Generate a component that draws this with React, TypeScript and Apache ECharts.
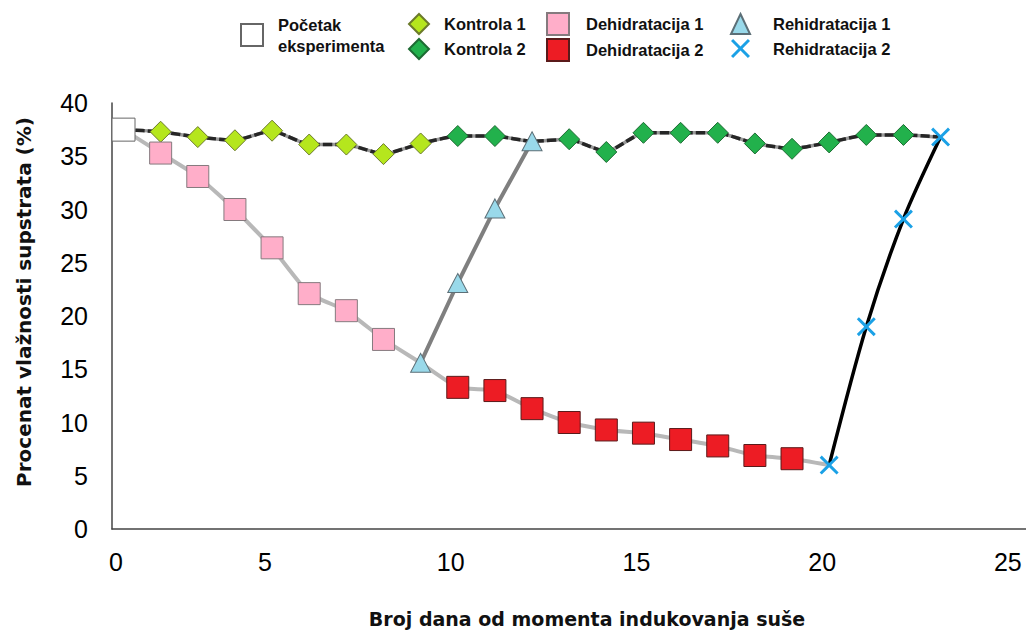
import React, { useEffect, useRef } from "react";
import * as echarts from "echarts";

// ---- data ----
const pocetakDays = [1];
const pocetakValues = [37.5];
const kontrola1Days = [2, 3, 4, 5, 6, 7, 8, 9];
const kontrola1Values = [37.3, 36.8, 36.5, 37.4, 36.1, 36.1, 35.2, 36.2];
const kontrola2Days = [10, 11, 13, 14, 15, 16, 17, 18, 19, 20, 21, 22];
const kontrola2Values = [36.9, 36.9, 36.6, 35.4, 37.2, 37.2, 37.2, 36.2, 35.7, 36.3, 37.0, 37.0];
const dehid1Days = [2, 3, 4, 5, 6, 7, 8];
const dehid1Values = [35.3, 33.1, 30.0, 26.4, 22.1, 20.5, 17.8];
const dehid2Days = [10, 11, 12, 13, 14, 15, 16, 17, 18, 19];
const dehid2Values = [13.3, 13.0, 11.3, 10.0, 9.3, 9.0, 8.4, 7.8, 6.9, 6.6];
const rehid1Days = [9, 10, 11, 12];
const rehid1Values = [15.6, 23.1, 30.1, 36.4];
const rehid2Days = [20, 21, 22, 23];
const rehid2Values = [6.0, 19.0, 29.1, 36.8];

const yTicks = [0, 5, 10, 15, 20, 25, 30, 35, 40];
const xTickValues = [5, 10, 15, 20, 25];
const xAxisMin = 0.69;
const xAxisMax = 25.3;

const names = {
  pocetak: "Početak eksperimenta",
  k1: "Kontrola 1",
  k2: "Kontrola 2",
  d1: "Dehidratacija 1",
  d2: "Dehidratacija 2",
  r1: "Rehidratacija 1",
  r2: "Rehidratacija 2",
};

const pts = (days: number[], vals: number[]) => days.map((d, i) => [d, vals[i]]);
const sortPts = (arr: number[][]) => arr.slice().sort((a, b) => a[0] - b[0]);

const crossPath =
  "path://M0,2.2 L2.2,0 L10,7.8 L17.8,0 L20,2.2 L12.2,10 L20,17.8 L17.8,20 L10,12.2 L2.2,20 L0,17.8 L7.8,10 Z";

const FONT = "'Liberation Sans', Arial, sans-serif";
const NAME_FONT = "'DejaVu Sans', 'Liberation Sans', sans-serif";

export default function App() {
  const ref = useRef<HTMLDivElement>(null);

  useEffect(() => {
    if (!ref.current) return;
    const chart = echarts.init(ref.current, null, { renderer: "svg" });

    const controlLine = sortPts([
      ...pts(pocetakDays, pocetakValues),
      ...pts(kontrola1Days, kontrola1Values),
      ...pts(kontrola2Days, kontrola2Values),
      [rehid1Days[rehid1Days.length - 1], rehid1Values[rehid1Values.length - 1]],
      [rehid2Days[rehid2Days.length - 1], rehid2Values[rehid2Values.length - 1]],
    ]);
    const dehydLine = sortPts([
      ...pts(pocetakDays, pocetakValues),
      ...pts(dehid1Days, dehid1Values),
      [rehid1Days[0], rehid1Values[0]],
      ...pts(dehid2Days, dehid2Values),
      [rehid2Days[0], rehid2Values[0]],
    ]);

    const lineBase = {
      type: "line",
      showSymbol: false,
      symbol: "none",
      silent: true,
      z: 1,
    };

    const legendText = {
      fontFamily: FONT,
      fontSize: 16.5,
      fontWeight: "bold",
      color: "#111",
      lineHeight: 21,
    };

    const mk = (name: string, data: number[][], symbol: string, size: any, color: string, border: string, bw = 1) => ({
      name,
      type: "scatter",
      data,
      symbol,
      symbolSize: size,
      z: 5,
      itemStyle: { color, borderColor: border, borderWidth: bw, opacity: 1 },
    });

    chart.setOption({
      animation: false,
      backgroundColor: "#fff",
      textStyle: { fontFamily: FONT },
      grid: { left: 112, right: 0, top: 103, bottom: 104, containLabel: false },
      legend: [
        {
          data: [names.pocetak],
          left: 240,
          top: 14,
          padding: 0,
          orient: "vertical",
          itemWidth: 22,
          itemHeight: 22,
          textStyle: { ...legendText, padding: [0, 0, 0, 10] },
          formatter: (n: string) => n.replace(" ", "\n"),
          selectedMode: false,
        },
        {
          data: [names.k1, names.k2],
          left: 408,
          top: 13,
          padding: 0,
          orient: "vertical",
          itemWidth: 20,
          itemHeight: 20,
          itemGap: 3,
          textStyle: { ...legendText, padding: [0, 0, 0, 10] },
          selectedMode: false,
        },
        {
          data: [names.d1, names.d2],
          left: 546,
          top: 12,
          padding: 0,
          orient: "vertical",
          itemWidth: 22,
          itemHeight: 22,
          itemGap: 2,
          textStyle: { ...legendText, padding: [0, 0, 0, 12] },
          selectedMode: false,
        },
        {
          data: [names.r1, names.r2],
          left: 730,
          top: 13,
          padding: 0,
          orient: "vertical",
          itemWidth: 19,
          itemHeight: 20,
          itemGap: 3,
          textStyle: { ...legendText, padding: [0, 0, 0, 18] },
          selectedMode: false,
        },
      ],
      xAxis: {
        type: "value",
        min: xAxisMin,
        max: xAxisMax,
        splitLine: { show: false },
        axisTick: { show: false },
        axisLine: { show: true, onZero: false, lineStyle: { color: "#444", width: 1.5 } },
        axisLabel: {
          customValues: [xAxisMin, ...xTickValues],
          formatter: (v: number) => (v < 1 ? "{z|0}" : "{n|" + Math.round(v) + "}"),
          margin: 20,
          rich: {
            z: { fontSize: 25, fontFamily: FONT, color: "#000", padding: [0, 0, 0, 8] },
            n: { fontSize: 25, fontFamily: FONT, color: "#000", padding: [0, 14, 0, 0] },
          },
        },
        name: "Broj dana od momenta indukovanja suše",
        nameLocation: "middle",
        nameGap: 80,
        nameTextStyle: { fontFamily: NAME_FONT, fontSize: 19, fontWeight: "bold", color: "#111", padding: [0, 0, 0, 36] },
      },
      yAxis: {
        type: "value",
        min: yTicks[0],
        max: yTicks[yTicks.length - 1],
        interval: 5,
        splitLine: { show: false },
        axisTick: { show: false },
        axisLine: { show: true, lineStyle: { color: "#444", width: 1.5 } },
        axisLabel: { fontSize: 25, fontFamily: FONT, color: "#000", margin: 24 },
        name: "Procenat vlažnosti supstrata (%)",
        nameLocation: "middle",
        nameGap: 78,
        nameTextStyle: { fontFamily: NAME_FONT, fontSize: 20, fontWeight: "bold", color: "#111", padding: [0, 0, 0, 28] },
      },
      series: [
        { ...lineBase, name: "dehydLine", data: dehydLine, smooth: 0.15, lineStyle: { color: "#b8b8b8", width: 4 } },
        { ...lineBase, name: "controlLineBase", data: controlLine, smooth: 0.15, lineStyle: { color: "#9a9a9a", width: 3.5 } },
        { ...lineBase, name: "controlLine", data: controlLine, smooth: 0.15, z: 2, lineStyle: { color: "#262626", width: 3.5, type: [9, 3] } },
        { ...lineBase, name: "rehyd1Line", data: pts(rehid1Days, rehid1Values), lineStyle: { color: "#7f7f7f", width: 4 } },
        { ...lineBase, name: "rehyd2Line", data: pts(rehid2Days, rehid2Values), smooth: 0.3, lineStyle: { color: "#000", width: 3.5 } },
        mk(names.pocetak, pts(pocetakDays, pocetakValues), "rect", 23, "#ffffff", "#666"),
        mk(names.k1, pts(kontrola1Days, kontrola1Values), "diamond", 21, "#b5e61d", "#6b7a2a"),
        mk(names.k2, pts(kontrola2Days, kontrola2Values), "diamond", 21, "#22b14c", "#1d6b33"),
        mk(names.d1, pts(dehid1Days, dehid1Values), "rect", 22, "#ffaec9", "#857a7e"),
        mk(names.d2, pts(dehid2Days, dehid2Values), "rect", 22, "#ed1c24", "#5a1a1a"),
        mk(names.r1, pts(rehid1Days, rehid1Values), "triangle", [20, 19], "#99d9ea", "#5c6f77"),
        mk(names.r2, pts(rehid2Days, rehid2Values), crossPath, 19, "#1ba1e6", "#1ba1e6", 0),
      ],
    });

    return () => chart.dispose();
  }, []);

  return (
    <div
      ref={ref}
      style={{ position: "fixed", left: 0, top: 0, width: 1026, height: 633 }}
    />
  );
}
